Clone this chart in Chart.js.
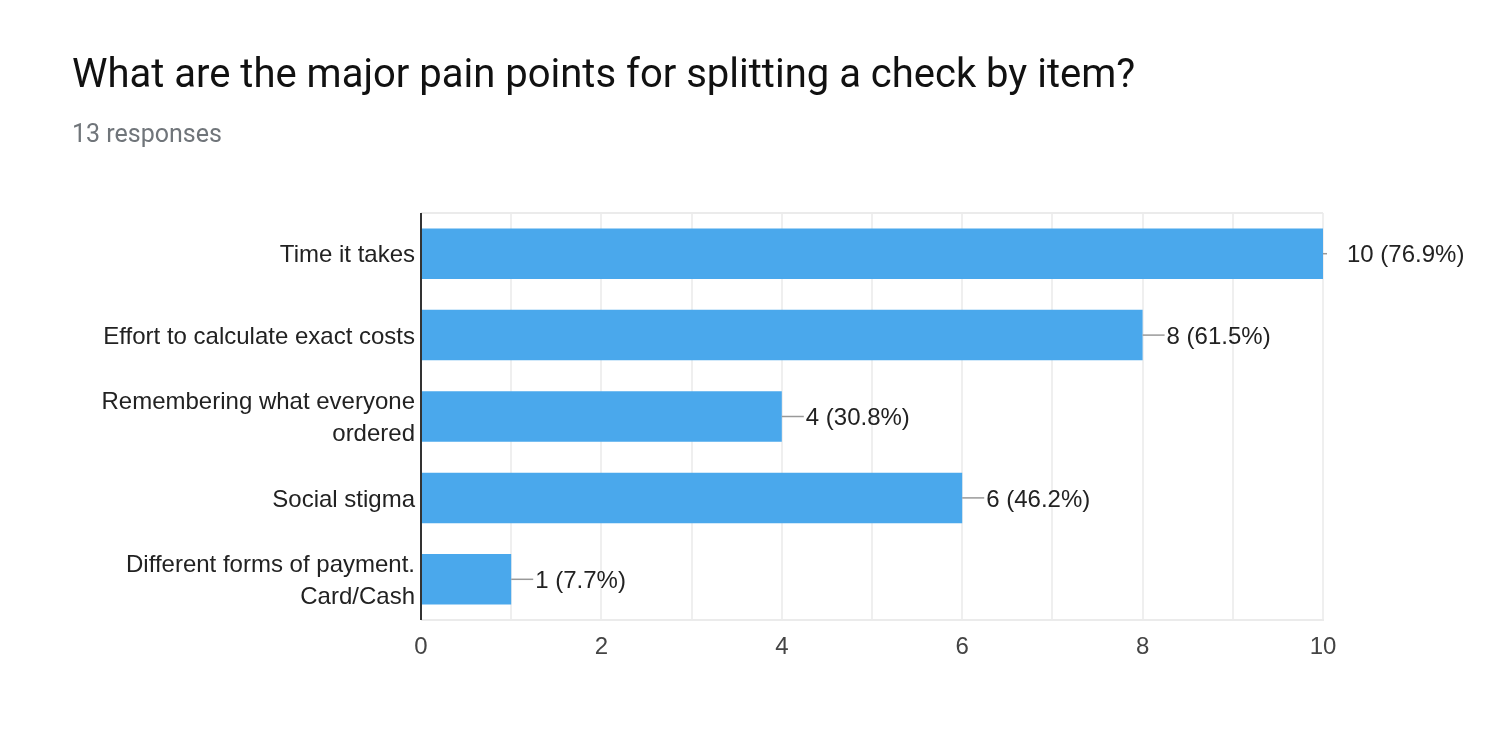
<!DOCTYPE html>
<html>
<head>
<meta charset="utf-8">
<script src="https://cdn.jsdelivr.net/npm/chart.js@4"></script>
<style>
  html, body { margin: 0; padding: 0; background: #fff; }
  #wrap { position: relative; width: 1506px; height: 742px; overflow: hidden; }
  #title { position: absolute; left: 72px; top: 54px; font-family: Roboto, "Liberation Sans", sans-serif; font-size: 40px; line-height: 40px; color: #111111; white-space: nowrap; }
  #sub { position: absolute; left: 72px; top: 121px; font-family: Roboto, "Liberation Sans", sans-serif; font-size: 25px; line-height: 25px; color: #70757a; white-space: nowrap; }
  canvas { position: absolute; left: 0; top: 0; }
</style>
</head>
<body>
<div id="wrap">
  <canvas id="c" width="1506" height="742"></canvas>
  <div id="title">What are the major pain points for splitting a check by item?</div>
  <div id="sub">13 responses</div>
</div>
<script>
const categories = [
  "Time it takes",
  "Effort to calculate exact costs",
  ["Remembering what everyone", "ordered"],
  "Social stigma",
  ["Different forms of payment.", "Card/Cash"]
];
const counts = [10, 8, 4, 6, 1];
const percents = [76.9, 61.5, 30.8, 46.2, 7.7];
const xTickMax = 10;

const FONT = '"Liberation Sans", Arial, sans-serif';

const valueLabels = {
  id: 'valueLabels',
  afterDatasetsDraw(chart) {
    const ctx = chart.ctx;
    const meta = chart.getDatasetMeta(0);
    const xs = chart.scales.x;
    ctx.save();
    ctx.font = '24px ' + FONT;
    ctx.textBaseline = 'middle';
    ctx.textAlign = 'left';
    meta.data.forEach((bar, i) => {
      const v = counts[i];
      const xEnd = xs.getPixelForValue(v);
      const y = bar.y;
      const lineLen = v >= xTickMax ? 4 : 22;
      ctx.strokeStyle = '#999999';
      ctx.lineWidth = 1.5;
      ctx.beginPath();
      ctx.moveTo(xEnd, y);
      ctx.lineTo(xEnd + lineLen, y);
      ctx.stroke();
      ctx.fillStyle = '#222222';
      ctx.fillText(v + ' (' + percents[i] + '%)', xEnd + 24, y + 2);
    });
    const ca = chart.chartArea;
    ctx.strokeStyle = '#333333';
    ctx.lineWidth = 2;
    ctx.beginPath();
    ctx.moveTo(ca.left, ca.top);
    ctx.lineTo(ca.left, ca.bottom);
    ctx.stroke();
    ctx.restore();
  },
  beforeDatasetsDraw(chart) {
    const ctx = chart.ctx;
    const ca = chart.chartArea;
    ctx.save();
    ctx.strokeStyle = '#ebebeb';
    ctx.lineWidth = 2;
    ctx.beginPath();
    ctx.moveTo(ca.left, ca.top);
    ctx.lineTo(ca.right, ca.top);
    ctx.moveTo(ca.left, ca.bottom);
    ctx.lineTo(ca.right + 1, ca.bottom);
    ctx.stroke();
    ctx.restore();
  }
};

new Chart(document.getElementById('c'), {
  type: 'bar',
  data: {
    labels: categories,
    datasets: [{
      data: counts,
      backgroundColor: '#4aa8ec',
      borderWidth: 0,
      categoryPercentage: 1.0,
      barPercentage: 0.62
    }]
  },
  options: {
    indexAxis: 'y',
    responsive: false,
    animation: false,
    events: [],
    layout: { padding: { left: 0, right: 183, top: 213, bottom: 60 } },
    plugins: { legend: { display: false }, tooltip: { enabled: false } },
    scales: {
      x: {
        min: 0, max: xTickMax,
        border: { display: false },
        grid: { color: '#efefef', lineWidth: 2, drawTicks: false },
        ticks: {
          stepSize: 1,
          padding: 13,
          color: '#444444',
          font: { family: FONT, size: 24 },
          callback: (v) => (v % 2 === 0 ? String(v) : '')
        },
        afterFit(axis) { axis.height = 62; }
      },
      y: {
        border: { display: false },
        grid: { display: false, drawTicks: false },
        ticks: {
          padding: 6,
          labelOffset: 2,
          color: '#222222',
          font: { family: FONT, size: 24, lineHeight: 1.33 }
        },
        afterFit(axis) { axis.width = 421; }
      }
    }
  },
  plugins: [valueLabels]
});
</script>
</body>
</html>
